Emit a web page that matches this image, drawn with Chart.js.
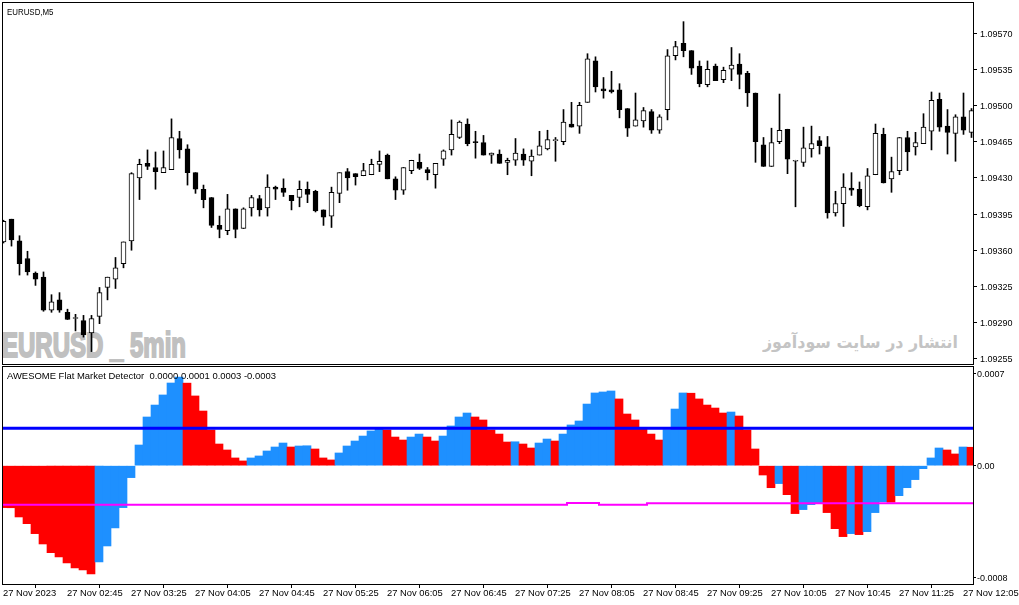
<!DOCTYPE html>
<html>
<head>
<meta charset="utf-8">
<script src="https://cdn.jsdelivr.net/npm/chart.js@4.4.1/dist/chart.umd.min.js"></script>
<style>
html,body{margin:0;padding:0;background:#fff;width:1019px;height:605px;overflow:hidden;}
#wrap{position:relative;width:1019px;height:605px;background:#fff;}
canvas{position:absolute;left:0;}
#cTop{top:0;}
#cInd{top:366px;}
.txt{position:absolute;white-space:pre;transform-origin:0 0;}
#wm{left:1.5px;top:327px;font:bold 35px/35px "Liberation Sans Narrow","Liberation Sans",sans-serif;color:#c0c0c0;-webkit-text-stroke:2px #c0c0c0;}
#fa{left:763px;top:333.6px;font:bold 17px/17px "DejaVu Sans",sans-serif;color:#c4c4c4;}
#title{left:7px;top:7px;font:9.5px/9.5px "Liberation Sans",sans-serif;color:#000;}
#ind{left:7px;top:371px;font:9.5px/9.5px "Liberation Sans",sans-serif;color:#000;}
</style>
</head>
<body>
<div id="wrap">
  <div id="wm" class="txt">EURUSD _ 5min</div>
  <div id="fa" class="txt" dir="rtl">انتشار در سایت سودآموز</div>
  <canvas id="cTop" width="1019" height="366"></canvas>
  <canvas id="cInd" width="1019" height="239"></canvas>
  <div id="title" class="txt">EURUSD,M5</div>
  <div id="ind" class="txt">AWESOME Flat Market Detector  0.0000 0.0001 0.0003 -0.0003</div>
</div>
<script>
// ---------------- DATA ----------------
const opens = [
1.09368,1.09390,1.09369,1.09352,1.09338,1.09334,1.09302,1.09312,1.09300,1.09294,
1.09292,1.09280,1.09296,1.09324,1.09332,1.09347,1.09369,1.09430,1.09444,1.09440,
1.09435,1.09438,1.09468,1.09458,1.09435,1.09419,1.09411,1.09384,1.09379,1.09400,
1.09381,1.09401,1.09410,1.09401,1.09421,1.09420,1.09413,1.09411,1.09419,1.09417,
1.09399,1.09393,1.09415,1.09436,1.09434,1.09432,1.09433,1.09443,1.09452,1.09429,
1.09418,1.09437,1.09445,1.09438,1.09433,1.09448,1.09457,1.09469,1.09482,1.09465,
1.09464,1.09452,1.09453,1.09445,1.09447,1.09453,1.09446,1.09452,1.09458,1.09466,
1.09465,1.09482,1.09480,1.09503,1.09543,1.09516,1.09515,1.09515,1.09497,1.09480,
1.09485,1.09494,1.09476,1.09496,1.09548,1.09560,1.09553,1.09538,1.09520,1.09538,
1.09525,1.09535,1.09540,1.09531,1.09512,1.09462,1.09441,1.09465,1.09477,1.09446,
1.09445,1.09458,1.09466,1.09460,1.09396,1.09405,1.09420,1.09419,1.09402,1.09433,
1.09472,1.09429,1.09437,1.09469,1.09460,1.09463,1.09475,1.09506,1.09480,1.09473,
1.09489,1.09474];
const highs = [
1.09389,1.09390,1.09374,1.09359,1.09339,1.09339,1.09317,1.09319,1.09303,1.09298,
1.09297,1.09297,1.09324,1.09334,1.09353,1.09368,1.09435,1.09448,1.09457,1.09455,
1.09456,1.09487,1.09475,1.09462,1.09435,1.09423,1.09411,1.09393,1.09414,1.09400,
1.09401,1.09413,1.09413,1.09433,1.09422,1.09429,1.09413,1.09427,1.09426,1.09418,
1.09399,1.09421,1.09435,1.09439,1.09434,1.09444,1.09448,1.09456,1.09453,1.09431,
1.09440,1.09447,1.09453,1.09440,1.09444,1.09457,1.09486,1.09485,1.09487,1.09475,
1.09471,1.09454,1.09457,1.09449,1.09468,1.09458,1.09457,1.09475,1.09476,1.09469,
1.09496,1.09503,1.09503,1.09550,1.09547,1.09527,1.09533,1.09521,1.09497,1.09512,
1.09498,1.09496,1.09491,1.09554,1.09562,1.09581,1.09553,1.09543,1.09543,1.09540,
1.09537,1.09556,1.09550,1.09533,1.09512,1.09469,1.09478,1.09511,1.09477,1.09447,
1.09479,1.09480,1.09470,1.09470,1.09417,1.09434,1.09435,1.09426,1.09439,1.09482,
1.09478,1.09450,1.09469,1.09475,1.09474,1.09492,1.09513,1.09512,1.09496,1.09491,
1.09512,1.09497];
const lows = [
1.09367,1.09364,1.09336,1.09336,1.09326,1.09301,1.09300,1.09300,1.09293,1.09282,
1.09276,1.09262,1.09289,1.09312,1.09323,1.09343,1.09360,1.09409,1.09438,1.09419,
1.09435,1.09438,1.09449,1.09423,1.09415,1.09401,1.09382,1.09372,1.09375,1.09372,
1.09381,1.09393,1.09393,1.09393,1.09409,1.09412,1.09399,1.09402,1.09406,1.09397,
1.09384,1.09382,1.09406,1.09418,1.09423,1.09432,1.09433,1.09436,1.09429,1.09409,
1.09414,1.09434,1.09438,1.09428,1.09420,1.09442,1.09452,1.09468,1.09461,1.09449,
1.09452,1.09444,1.09444,1.09433,1.09442,1.09442,1.09432,1.09452,1.09457,1.09446,
1.09462,1.09479,1.09473,1.09503,1.09513,1.09507,1.09512,1.09488,1.09470,1.09480,
1.09479,1.09473,1.09473,1.09486,1.09544,1.09547,1.09530,1.09518,1.09518,1.09524,
1.09522,1.09524,1.09516,1.09499,1.09445,1.09441,1.09441,1.09463,1.09434,1.09402,
1.09441,1.09450,1.09453,1.09391,1.09393,1.09383,1.09413,1.09402,1.09399,1.09433,
1.09425,1.09416,1.09433,1.09437,1.09452,1.09463,1.09457,1.09475,1.09453,1.09446,
1.09472,1.09469];
const closes = [
1.09388,1.09370,1.09347,1.09339,1.09332,1.09302,1.09310,1.09302,1.09293,1.09294,
1.09278,1.09294,1.09319,1.09334,1.09343,1.09368,1.09434,1.09443,1.09441,1.09436,
1.09440,1.09469,1.09457,1.09435,1.09419,1.09409,1.09384,1.09380,1.09400,1.09380,
1.09400,1.09411,1.09399,1.09421,1.09419,1.09416,1.09408,1.09419,1.09414,1.09398,
1.09392,1.09416,1.09435,1.09430,1.09431,1.09437,1.09443,1.09446,1.09429,1.09418,
1.09440,1.09447,1.09439,1.09435,1.09444,1.09456,1.09472,1.09484,1.09463,1.09464,
1.09452,1.09454,1.09444,1.09447,1.09454,1.09447,1.09451,1.09461,1.09467,1.09466,
1.09484,1.09479,1.09500,1.09545,1.09518,1.09514,1.09513,1.09496,1.09478,1.09486,
1.09495,1.09476,1.09489,1.09548,1.09557,1.09553,1.09536,1.09521,1.09535,1.09524,
1.09534,1.09539,1.09530,1.09512,1.09465,1.09441,1.09464,1.09476,1.09448,1.09446,
1.09459,1.09463,1.09461,1.09396,1.09405,1.09421,1.09418,1.09403,1.09432,1.09473,
1.09425,1.09436,1.09469,1.09455,1.09464,1.09479,1.09505,1.09479,1.09474,1.09489,
1.09476,1.09495];

// Awesome oscillator histogram values
const aoValues = [
-0.000337,-0.000338,-0.000412,-0.000466,-0.000546,-0.000629,-0.000699,-0.000733,-0.000782,-0.000822,
-0.000838,-0.000870,-0.000773,-0.000645,-0.000500,-0.000337,-0.000096,0.000166,0.000391,0.000487,
0.000568,0.000664,0.000712,0.000663,0.000560,0.000439,0.000287,0.000174,0.000126,0.000062,
0.000038,0.000062,0.000078,0.000118,0.000150,0.000182,0.000150,0.000158,0.000160,0.000134,
0.000062,0.000046,0.000102,0.000158,0.000198,0.000238,0.000279,0.000295,0.000287,0.000230,
0.000206,0.000230,0.000254,0.000230,0.000198,0.000238,0.000319,0.000391,0.000423,0.000391,
0.000367,0.000287,0.000254,0.000190,0.000192,0.000174,0.000142,0.000182,0.000214,0.000198,
0.000254,0.000327,0.000359,0.000495,0.000584,0.000592,0.000600,0.000536,0.000415,0.000367,
0.000295,0.000254,0.000206,0.000289,0.000455,0.000584,0.000582,0.000536,0.000487,0.000463,
0.000423,0.000431,0.000399,0.000287,0.000134,-0.000075,-0.000177,-0.000144,-0.000233,-0.000385,
-0.000353,-0.000313,-0.000300,-0.000377,-0.000506,-0.000570,-0.000546,-0.000554,-0.000530,-0.000377,
-0.000289,-0.000294,-0.000241,-0.000177,-0.000112,-0.000024,0.000062,0.000142,0.000126,0.000094,
0.000150,0.000148];

// lower flat-market band (magenta)
const lowerBand = [
-0.000313,-0.000313,-0.000313,-0.000313,-0.000313,-0.000313,-0.000313,-0.000313,-0.000313,-0.000313,
-0.000313,-0.000313,-0.000313,-0.000313,-0.000313,-0.000313,-0.000313,-0.000313,-0.000313,-0.000313,
-0.000313,-0.000313,-0.000313,-0.000313,-0.000313,-0.000313,-0.000313,-0.000313,-0.000313,-0.000313,
-0.000313,-0.000313,-0.000313,-0.000313,-0.000313,-0.000313,-0.000313,-0.000313,-0.000313,-0.000313,
-0.000313,-0.000313,-0.000313,-0.000313,-0.000313,-0.000313,-0.000313,-0.000313,-0.000313,-0.000313,
-0.000313,-0.000313,-0.000313,-0.000313,-0.000313,-0.000313,-0.000313,-0.000313,-0.000313,-0.000313,
-0.000313,-0.000313,-0.000313,-0.000313,-0.000313,-0.000313,-0.000313,-0.000313,-0.000313,-0.000313,
-0.000313,-0.000300,-0.000300,-0.000300,-0.000300,-0.000313,-0.000313,-0.000313,-0.000313,-0.000313,
-0.000313,-0.000302,-0.000302,-0.000302,-0.000302,-0.000302,-0.000302,-0.000302,-0.000302,-0.000302,
-0.000302,-0.000302,-0.000302,-0.000302,-0.000302,-0.000302,-0.000302,-0.000302,-0.000302,-0.000302,
-0.000302,-0.000302,-0.000302,-0.000302,-0.000302,-0.000302,-0.000302,-0.000302,-0.000302,-0.000302,
-0.000302,-0.000302,-0.000302,-0.000302,-0.000302,-0.000302,-0.000302,-0.000302,-0.000302,-0.000302,
-0.000302,-0.000302];
const upperLevel = 0.0003;

const priceTicks = [1.09570,1.09535,1.09500,1.09465,1.09430,1.09395,1.09360,1.09325,1.09290,1.09255];
const indTickValues = [0.000744, 0, -0.000896];
const indTickLabels = ['0.0007', '0.00', '-0.0008'];
const timeTickBars = [0,8,16,24,32,40,48,56,64,72,80,88,96,104,112,120];
const timeLabels = ['27 Nov 2023','27 Nov 02:45','27 Nov 03:25','27 Nov 04:05','27 Nov 04:45','27 Nov 05:25',
  '27 Nov 06:05','27 Nov 06:45','27 Nov 07:25','27 Nov 08:05','27 Nov 08:45','27 Nov 09:25',
  '27 Nov 10:05','27 Nov 10:45','27 Nov 11:25','27 Nov 12:05'];

// ---------------- CHARTS ----------------
Chart.defaults.font.family = '"Liberation Sans", Arial, sans-serif';
Chart.defaults.color = '#000';
const idx = opens.map((_, i) => i);
const UP_COL = '#1E90FF', DOWN_COL = '#FF0000';

const borderBox = {
  id: 'borderBox',
  afterDraw(chart) {
    const {ctx, chartArea: a} = chart;
    ctx.save();
    ctx.strokeStyle = '#000';
    ctx.lineWidth = 1;
    ctx.strokeRect(a.left + 0.5, a.top + 0.5, a.right - a.left, a.bottom - a.top);
    ctx.restore();
  }
};
function noPad(scale) { scale.paddingTop = 0; scale.paddingBottom = 0; scale.paddingLeft = 0; scale.paddingRight = 0; }

const topX = {min: -0.1875, max: 121.1875};
new Chart(document.getElementById('cTop'), {
  type: 'bar',
  data: {
    datasets: [
      {
        label: 'body', order: 0, grouped: false,
        data: idx.map(i => ({x: i, y: [opens[i], closes[i]]})),
        backgroundColor: c => closes[c.dataIndex] >= opens[c.dataIndex] ? '#ffffff' : '#000000',
        borderColor: '#000000', borderWidth: 1, borderSkipped: false,
        barThickness: 5, minBarLength: 1
      },
      {
        label: 'wick', order: 1, grouped: false,
        data: idx.map(i => ({x: i, y: [lows[i], highs[i]]})),
        backgroundColor: '#000000', borderWidth: 0,
        barThickness: 1, minBarLength: 1
      }
    ]
  },
  options: {
    responsive: false, animation: false,
    layout: {padding: {left: 2, top: 2, right: 0, bottom: 2}},
    plugins: {legend: {display: false}, tooltip: {enabled: false}},
    scales: {
      x: {type: 'linear', min: topX.min, max: topX.max, display: false, offset: false},
      y: {
        position: 'right', min: 1.09250, max: 1.09600,
        grid: {drawOnChartArea: false, drawTicks: true, tickLength: 4, color: '#000'},
        border: {display: false},
        ticks: {font: {size: 9}, padding: 3, labelOffset: 1, color: '#000', callback: v => v.toFixed(5)},
        afterBuildTicks: s => { s.ticks = priceTicks.map(v => ({value: v})); },
        afterFit: s => { s.width = 46; noPad(s); }
      }
    }
  },
  plugins: [borderBox]
});

const indX = {min: -0.125, max: 121.25};
new Chart(document.getElementById('cInd'), {
  type: 'bar',
  data: {
    datasets: [
      {
        type: 'line', label: 'upper', order: 0, clip: 0,
        data: [{x: indX.min, y: upperLevel}, {x: indX.max, y: upperLevel}],
        borderColor: '#0000FF', borderWidth: 3, pointRadius: 0
      },
      {
        type: 'line', label: 'lower', order: 0, clip: 0, stepped: 'middle',
        data: [{x: indX.min, y: lowerBand[0]}].concat(idx.map(k => ({x: k, y: lowerBand[k]})), [{x: indX.max, y: lowerBand[lowerBand.length - 1]}]),
        borderColor: '#FF00FF', borderWidth: 2, pointRadius: 0
      },
      {
        type: 'bar', label: 'AO', order: 1, grouped: false,
        data: idx.map(k => ({x: k, y: aoValues[k]})),
        backgroundColor: c => (c.dataIndex > 0 && aoValues[c.dataIndex] > aoValues[c.dataIndex - 1]) ? UP_COL : DOWN_COL,
        borderWidth: 0, barThickness: 8
      }
    ]
  },
  options: {
    responsive: false, animation: false,
    layout: {padding: {left: 2, top: 0, right: 0, bottom: 0}},
    plugins: {legend: {display: false}, tooltip: {enabled: false}},
    scales: {
      x: {
        type: 'linear', position: 'bottom', min: indX.min, max: indX.max, offset: false,
        grid: {drawOnChartArea: false, drawTicks: true, tickLength: 4, color: '#000'},
        border: {display: false},
        ticks: {align: 'start', autoSkip: false, maxRotation: 0, minRotation: 0, padding: 0,
                font: {size: 9.4}, color: '#000', callback: (v, i) => timeLabels[i]},
        afterBuildTicks: s => { s.ticks = timeTickBars.map(v => ({value: v})); },
        afterFit: s => { s.height = 21; noPad(s); }
      },
      y: {
        position: 'right', min: -0.0009505, max: 0.0008006,
        grid: {drawOnChartArea: false, drawTicks: true, tickLength: 3, color: '#000'},
        border: {display: false},
        ticks: {font: {size: 9}, padding: 1, labelOffset: 1, color: '#000', callback: (v, i) => indTickLabels[i]},
        afterBuildTicks: s => { s.ticks = indTickValues.map(v => ({value: v})); },
        afterFit: s => { s.width = 46; noPad(s); }
      }
    }
  },
  plugins: [borderBox]
});

// fit free texts to the widths they occupy in the reference
function fitWidth(id, w) {
  const el = document.getElementById(id);
  const r = el.getBoundingClientRect().width;
  el.style.transform = 'scaleX(' + (w / r) + ')';
}
fitWidth('wm', 184);
fitWidth('fa', 195);
fitWidth('title', 46.5);
fitWidth('ind', 269);
</script>
</body>
</html>
